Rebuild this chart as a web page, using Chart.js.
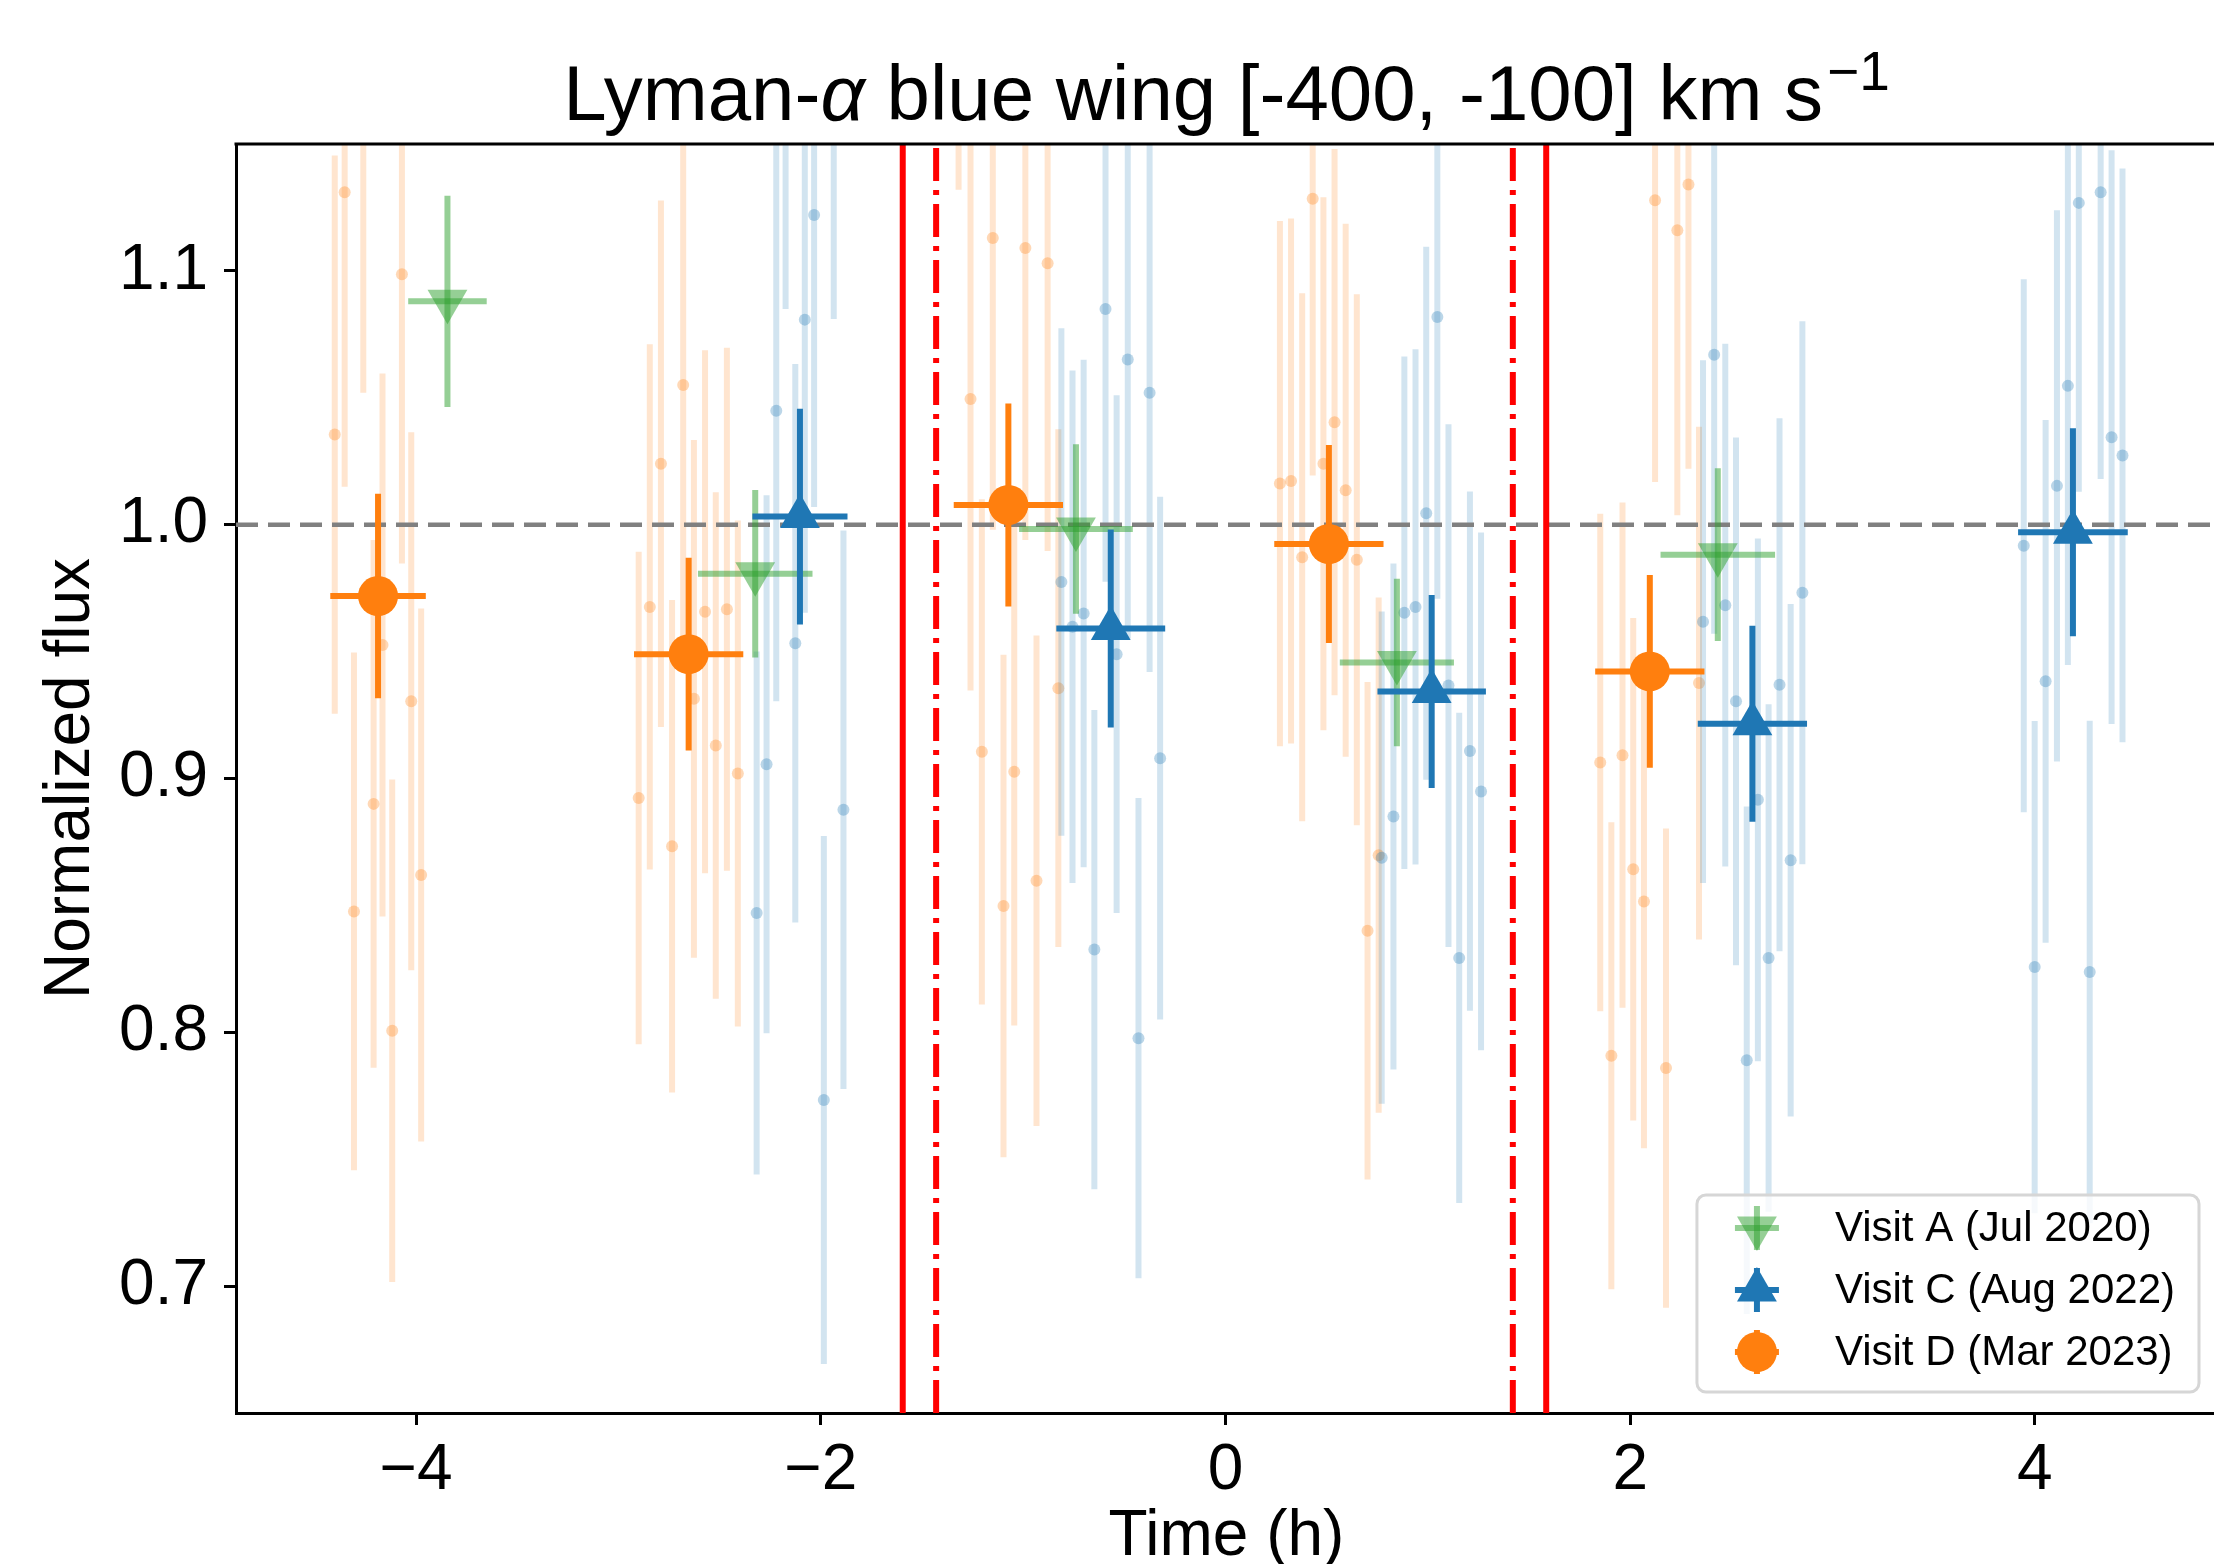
<!DOCTYPE html>
<html>
<head>
<meta charset="utf-8">
<title>Lyman-alpha blue wing light curve</title>
<script src="https://cdn.jsdelivr.net/npm/chart.js@4.4.1/dist/chart.umd.min.js"></script>
<style>
  html, body { margin: 0; padding: 0; background: #fff; overflow: hidden; }
  #wrap { width: 2214px; height: 1564px; overflow: hidden; }
</style>
</head>
<body>
<div id="wrap"><canvas id="lyaChart" width="2240" height="1564"></canvas></div>
<script>
const FONT = "'Liberation Sans', Arial, Helvetica, sans-serif";

// Binned points per visit
const visitA_time = [-3.845, -2.324, -0.739, 0.847, 2.433];
const visitA_flux = [1.088, 0.9807, 0.9983, 0.9457, 0.9882];
const visitA_timeErr = [0.194, 0.283, 0.281, 0.282, 0.283];
const visitA_fluxErr = [0.0416, 0.033, 0.0334, 0.033, 0.034];

const visitC_time = [-2.103, -0.567, 1.019, 2.604, 4.188];
const visitC_flux = [1.0032, 0.9591, 0.9343, 0.9216, 0.997];
const visitC_timeErr = [0.235, 0.269, 0.268, 0.27, 0.271];
const visitC_fluxErr = [0.0425, 0.039, 0.038, 0.0386, 0.041];

const visitD_time = [-4.188, -2.653, -1.073, 0.511, 2.097];
const visitD_flux = [0.9719, 0.949, 1.0078, 0.9924, 0.9422];
const visitD_timeErr = [0.236, 0.27, 0.27, 0.27, 0.27];
const visitD_fluxErr = [0.0403, 0.038, 0.04, 0.039, 0.038];

// Individual sub-exposures (faint)
const visitC_expTime = [-2.317, -2.268, -2.220, -2.174, -2.126, -2.079, -2.033, -1.985, -1.936, -1.888,
  -0.811, -0.756, -0.701, -0.648, -0.593, -0.538, -0.483, -0.430, -0.375, -0.323,
  0.772, 0.830, 0.884, 0.939, 0.992, 1.047, 1.102, 1.155, 1.208, 1.263,
  2.360, 2.415, 2.470, 2.523, 2.576, 2.631, 2.684, 2.738, 2.793, 2.851,
  3.945, 3.999, 4.053, 4.109, 4.163, 4.217, 4.271, 4.325, 4.379, 4.433];
const visitC_expFlux = [0.847, 0.9056, 1.0449, 1.195, 0.9533, 1.0808, 1.122, 0.7733, 1.195, 0.8877,
  0.9774, 0.9598, 0.965, 0.8326, 1.085, 0.949, 1.0651, 0.7977, 1.052, 0.908,
  0.8688, 0.885, 0.9653, 0.9676, 1.0045, 1.0818, 0.9366, 0.8293, 0.9108, 0.8949,
  0.9618, 1.067, 0.9683, 0.9304, 0.789, 0.8916, 0.8293, 0.9369, 0.8678, 0.9732,
  0.9917, 0.8257, 0.9383, 1.0153, 1.0547, 1.1268, 0.8238, 1.131, 1.0345, 1.0273];
const visitC_expErr = [0.103, 0.106, 0.1145, 0.11, 0.11, 0.1155, 0.115, 0.104, 0.114, 0.11,
  0.1, 0.101, 0.1, 0.0944, 0.1075, 0.102, 0.11, 0.0946, 0.11, 0.103,
  0.097, 0.0997, 0.101, 0.1015, 0.105, 0.111, 0.103, 0.0966, 0.1023, 0.102,
  0.103, 0.11, 0.103, 0.104, 0.1, 0.103, 0.1, 0.105, 0.101, 0.107,
  0.105, 0.097, 0.103, 0.1086, 0.11, 0.1138, 0.099, 0.113, 0.113, 0.113];

const visitD_expTime = [-4.402, -4.353, -4.307, -4.261, -4.210, -4.166, -4.118, -4.070, -4.024, -3.975,
  -2.900, -2.845, -2.790, -2.735, -2.680, -2.627, -2.572, -2.519, -2.464, -2.410,
  -1.319, -1.260, -1.204, -1.150, -1.097, -1.044, -0.989, -0.934, -0.879, -0.826,
  0.269, 0.324, 0.379, 0.431, 0.484, 0.539, 0.594, 0.649, 0.702, 0.757,
  1.852, 1.907, 1.962, 2.015, 2.068, 2.123, 2.177, 2.233, 2.288, 2.340];
const visitD_expFlux = [1.0355, 1.131, 0.8476, 1.165, 0.890, 0.9526, 0.8006, 1.0987, 0.9304, 0.862,
  0.8923, 0.9676, 1.024, 0.8733, 1.055, 0.9314, 0.9657, 0.913, 0.9667, 0.902,
  1.245, 1.0495, 0.9105, 1.113, 0.8498, 0.9027, 1.109, 0.8597, 1.103, 0.9356,
  1.0162, 1.0172, 0.9872, 1.1284, 1.024, 1.0404, 1.0136, 0.9862, 0.840, 0.8698,
  0.9063, 0.7908, 0.9092, 0.8642, 0.8515, 1.1278, 0.7859, 1.116, 1.134, 0.9376];
const visitD_expErr = [0.110, 0.116, 0.102, 0.113, 0.104, 0.107, 0.099, 0.114, 0.106, 0.105,
  0.097, 0.1035, 0.1037, 0.097, 0.11, 0.102, 0.103, 0.0998, 0.103, 0.0997,
  0.113, 0.1148, 0.0995, 0.115, 0.099, 0.1, 0.115, 0.0966, 0.1134, 0.102,
  0.1035, 0.1034, 0.104, 0.109, 0.105, 0.1076, 0.105, 0.1046, 0.098, 0.1015,
  0.098, 0.092, 0.0995, 0.099, 0.0972, 0.111, 0.0944, 0.1123, 0.112, 0.101];

// Transit contacts and reference level
const contactSolid = [-1.595, 1.585];
const contactDashDot = [-1.43, 1.42];
const refFlux = 1.0;

const xRange = [-4.89, 4.90];
const yRange = [0.65, 1.15];
const xTickValues = [-4, -2, 0, 2, 4];
const xTickLabels = ['\u22124', '\u22122', '0', '2', '4'];
const yTickValues = [0.7, 0.8, 0.9, 1.0, 1.1];
const yTickLabels = ['0.7', '0.8', '0.9', '1.0', '1.1'];

const pts = (xs, ys) => xs.map((v, i) => ({ x: v, y: ys[i] }));
const vline = v => [{ x: v, y: yRange[0] }, { x: v, y: yRange[1] }];

// error bars drawn just before each dataset's own markers
const errorBars = {
  id: 'errorBars',
  beforeDatasetDraw(chart, args) {
    const ds = chart.data.datasets[args.index];
    if (!ds.yErr) return;
    const { ctx, chartArea: a, scales: { x, y } } = chart;
    ctx.save();
    ctx.beginPath();
    ctx.rect(a.left, a.top, a.right - a.left, a.bottom - a.top);
    ctx.clip();
    ctx.strokeStyle = ds.errColor;
    ctx.lineWidth = ds.errWidth;
    ds.data.forEach((p, i) => {
      const px = x.getPixelForValue(p.x), py = y.getPixelForValue(p.y);
      ctx.beginPath();
      ctx.moveTo(px, y.getPixelForValue(p.y - ds.yErr[i]));
      ctx.lineTo(px, y.getPixelForValue(p.y + ds.yErr[i]));
      ctx.stroke();
      if (ds.xErr) {
        ctx.beginPath();
        ctx.moveTo(x.getPixelForValue(p.x - ds.xErr[i]), py);
        ctx.lineTo(x.getPixelForValue(p.x + ds.xErr[i]), py);
        ctx.stroke();
      }
    });
    ctx.restore();
  }
};

const frameAndTitle = {
  id: 'frameAndTitle',
  afterDraw(chart) {
    const { ctx, chartArea: a } = chart;
    ctx.save();
    // top spine
    ctx.strokeStyle = '#000';
    ctx.lineWidth = 3;
    ctx.beginPath();
    ctx.moveTo(a.left - 1.5, a.top);
    ctx.lineTo(a.right + 2, a.top);
    ctx.stroke();

    // title with italic alpha and superscript
    const size = 78;
    const parts = [
      { t: 'Lyman-', f: size + 'px ' + FONT },
      { t: '\u03b1', f: 'italic ' + size + 'px ' + FONT },
      { t: ' blue wing [-400, -100] km s', f: size + 'px ' + FONT }
    ];
    const sup = { t: '\u22121', f: Math.round(size * 0.7) + 'px ' + FONT };
    let total = 0;
    parts.forEach(p => { ctx.font = p.f; p.w = ctx.measureText(p.t).width; total += p.w; });
    ctx.font = sup.f;
    sup.w = ctx.measureText(sup.t).width;
    total += sup.w + 4;
    let cx = (a.left + a.right) / 2 - total / 2;
    const base = 120;
    ctx.fillStyle = '#000';
    ctx.textBaseline = 'alphabetic';
    ctx.textAlign = 'left';
    parts.forEach(p => { ctx.font = p.f; ctx.fillText(p.t, cx, base); cx += p.w; });
    ctx.font = sup.f;
    ctx.fillText(sup.t, cx + 4, base - 30);
    ctx.restore();
  }
};

const insetLegend = {
  id: 'insetLegend',
  afterDraw(chart) {
    const { ctx, chartArea: a } = chart;
    const items = chart.data.datasets.filter(d => d.legendRank).sort((p, q) => p.legendRank - q.legendRank);
    ctx.save();
    ctx.font = '42px ' + FONT;
    const maxW = Math.max(...items.map(d => ctx.measureText(d.label).width));
    const w = 138 + maxW + 24, h = 197;
    const right = Math.min(a.right, 2214) - 15, bottom = a.bottom - 21;
    const left = right - w, top = bottom - h;
    ctx.beginPath();
    ctx.roundRect(left, top, w, h, 9);
    ctx.fillStyle = 'rgba(255,255,255,0.8)';
    ctx.fill();
    ctx.strokeStyle = '#d6d6d6';
    ctx.lineWidth = 3;
    ctx.stroke();
    items.forEach((d, i) => {
      const my = top + 33 + i * 62, mx = left + 60;
      ctx.strokeStyle = d.errColor;
      ctx.lineWidth = 6;
      ctx.beginPath(); ctx.moveTo(mx - 22, my); ctx.lineTo(mx + 22, my); ctx.stroke();
      ctx.beginPath(); ctx.moveTo(mx, my - 22); ctx.lineTo(mx, my + 22); ctx.stroke();
      ctx.fillStyle = d.backgroundColor;
      Chart.helpers.drawPoint(ctx, { pointStyle: d.pointStyle, rotation: d.rotation || 0, radius: d.pointRadius, borderWidth: 0 }, mx, my);
      ctx.fillStyle = '#000';
      ctx.textAlign = 'left';
      ctx.textBaseline = 'middle';
      ctx.font = '42px ' + FONT;
      ctx.fillText(d.label, left + 138, my + 1);
    });
    ctx.restore();
  }
};

const lineSet = (xv, color, dash) => ({
  type: 'scatter', data: vline(xv), showLine: true, pointRadius: 0,
  borderColor: color, borderWidth: 6, borderDash: dash, fill: false
});

const datasets = [
  {
    label: 'Visit D (Mar 2023)', legendRank: 3,
    data: pts(visitD_time, visitD_flux), xErr: visitD_timeErr, yErr: visitD_fluxErr,
    errColor: '#ff7f0e', errWidth: 6,
    pointStyle: 'circle', pointRadius: 20, backgroundColor: '#ff7f0e', borderWidth: 0
  },
  {
    label: 'Visit C (Aug 2022)', legendRank: 2,
    data: pts(visitC_time, visitC_flux), xErr: visitC_timeErr, yErr: visitC_fluxErr,
    errColor: '#1f77b4', errWidth: 6,
    pointStyle: 'triangle', pointRadius: 23, backgroundColor: '#1f77b4', borderWidth: 0
  },
  {
    label: 'Visit A (Jul 2020)', legendRank: 1,
    data: pts(visitA_time, visitA_flux), xErr: visitA_timeErr, yErr: visitA_fluxErr,
    errColor: 'rgba(44,160,44,0.5)', errWidth: 6,
    pointStyle: 'triangle', rotation: 180, pointRadius: 23, backgroundColor: 'rgba(44,160,44,0.5)', borderWidth: 0
  },
  ...contactSolid.map(v => lineSet(v, '#ff0000', [])),
  ...contactDashDot.map(v => lineSet(v, '#ff0000', [33, 9, 5, 9])),
  {
    type: 'scatter', data: [{ x: xRange[0], y: refFlux }, { x: xRange[1], y: refFlux }],
    showLine: true, pointRadius: 0, borderColor: '#808080', borderWidth: 4.5, borderDash: [22, 10]
  },
  {
    label: 'Visit C exposures',
    data: pts(visitC_expTime, visitC_expFlux), yErr: visitC_expErr,
    errColor: 'rgba(31,119,180,0.2)', errWidth: 6,
    pointStyle: 'circle', pointRadius: 6, backgroundColor: 'rgba(31,119,180,0.3)', borderWidth: 0
  },
  {
    label: 'Visit D exposures',
    data: pts(visitD_expTime, visitD_expFlux), yErr: visitD_expErr,
    errColor: 'rgba(255,127,14,0.2)', errWidth: 6,
    pointStyle: 'circle', pointRadius: 6, backgroundColor: 'rgba(255,127,14,0.3)', borderWidth: 0
  }
];

const axisFont = { family: FONT, size: 64 };

new Chart(document.getElementById('lyaChart').getContext('2d'), {
  type: 'scatter',
  data: { datasets },
  plugins: [errorBars, frameAndTitle, insetLegend],
  options: {
    responsive: false,
    animation: false,
    devicePixelRatio: 1,
    events: [],
    layout: { padding: { top: 144, left: 0, right: 0, bottom: 0 } },
    plugins: { legend: { display: false }, tooltip: { enabled: false }, title: { display: false } },
    scales: {
      x: {
        type: 'linear', min: xRange[0], max: xRange[1],
        afterBuildTicks: s => { s.ticks = xTickValues.map(v => ({ value: v })); },
        afterFit: s => { s.height = 151; },
        ticks: { color: '#000', font: axisFont, padding: 8, maxRotation: 0, callback: (v, i) => xTickLabels[i] },
        grid: { drawOnChartArea: false, drawTicks: true, tickLength: 12, tickWidth: 3, tickColor: '#000' },
        border: { display: true, color: '#000', width: 3 },
        title: { display: true, text: 'Time (h)', color: '#000', font: { family: FONT, size: 64, lineHeight: 0.84 }, padding: { top: 0, bottom: 0 } }
      },
      y: {
        type: 'linear', min: yRange[0], max: yRange[1],
        afterBuildTicks: s => { s.ticks = yTickValues.map(v => ({ value: v })); },
        afterFit: s => { s.width = 236; },
        ticks: { color: '#000', font: axisFont, padding: 16, callback: (v, i) => yTickLabels[i] },
        grid: { drawOnChartArea: false, drawTicks: true, tickLength: 12, tickWidth: 3, tickColor: '#000' },
        border: { display: true, color: '#000', width: 3 },
        title: { display: true, text: 'Normalized flux', color: '#000', font: { family: FONT, size: 64, lineHeight: 1.2 }, padding: { top: 33, bottom: 0 } }
      }
    }
  }
});
</script>
</body>
</html>
